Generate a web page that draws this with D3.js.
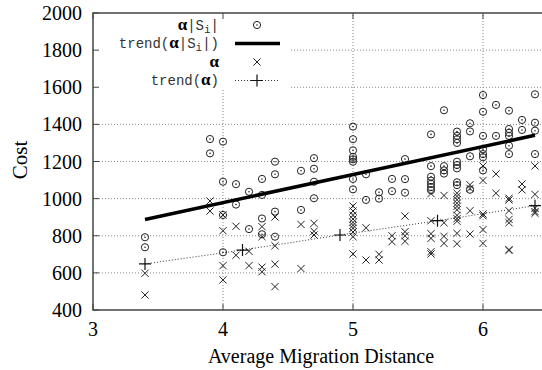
<!DOCTYPE html>
<html>
<head>
<meta charset="utf-8">
<script src="https://cdn.jsdelivr.net/npm/d3@7"></script>
<style>
  body { margin: 0; background: #fff; }
  svg { display: block; }
</style>
</head>
<body>
<div id="chart"></div>
<script>
var columns = [3.4, 3.9, 4.0, 4.1, 4.2, 4.3, 4.4, 4.6, 4.7, 5.0, 5.1, 5.2, 5.3, 5.4,
  5.6, 5.7, 5.8, 5.9, 6.0, 6.1, 6.2, 6.3, 6.4];

// alpha|S_i| (circles)
var sizedCosts = [
  [792, 738], [1321, 1244], [1307, 1091, 912, 711], [1078, 968], [1037, 836],
  [1106, 1020, 893, 808], [1199, 1131, 930, 795], [1150, 939], [1218, 1161, 1091, 1002],
  [1388, 1320, 1260, 1225, 1212, 1199, 1106, 1050], [1131, 993], [1034, 1000], [1106, 1040],
  [1213, 1105, 1032], [1346, 1175, 1118, 1097, 1080, 1062, 1045], [1476, 1175, 1152, 1135],
  [1361, 1338, 1320, 1300, 1199, 1181, 1163, 1088, 1073], [1406, 1362, 1228, 1048],
  [1558, 1468, 1338, 1266, 1240, 1223, 1152], [1505, 1338], [1474, 1375, 1355, 1338, 1285, 1240],
  [1424, 1370], [1562, 1409, 1366, 1240]
];

// alpha (crosses)
var alphaCosts = [
  [598, 481], [987, 933], [912, 827, 639, 562], [851, 695], [716, 639],
  [849, 795, 631, 606], [901, 746, 647, 526], [861, 623], [867, 824, 804],
  [960, 933, 910, 890, 872, 856, 840, 820, 795, 702], [843, 669], [700, 669], [800, 768],
  [906, 822, 800, 770], [1027, 881, 811, 786, 714, 702], [1017, 870, 797, 759],
  [1029, 1012, 994, 975, 958, 940, 910, 892, 878, 813, 757], [1075, 1055, 935, 809],
  [1176, 1098, 917, 908, 833, 759], [1133, 1029], [1002, 993, 935, 888, 870, 725, 721],
  [1079, 1047], [1176, 1023, 948, 930, 921]
];

// trend lines
var trendSizedX = [3.4, 6.4],
  trendSizedY = [888, 1341];
var trendAlphaX = [3.4, 4.15, 4.9, 5.65, 6.4],
  trendAlphaY = [648, 723, 804, 881, 962];

var xTicks = [3, 4, 5, 6],
  yTicks = [400, 600, 800, 1000, 1200, 1400, 1600, 1800, 2000];

var W = 542, H = 370;
var margin = {top: 13, left: 93, bottom: 60};

var xScale = d3.scaleLinear().domain([3, 6.5]).range([margin.left, margin.left + 3.5 * 130]),
  yScale = d3.scaleLinear().domain([400, 2000]).range([H - margin.bottom, margin.top]);

var x0 = xScale(3), x1 = xScale(6.5), y0 = yScale(400), y1 = yScale(2000);

var svg = d3.select("#chart").append("svg")
  .attr("width", W)
  .attr("height", H);

// grid
svg.append("g").selectAll("line")
  .data(yTicks.slice(1, -1))
  .enter().append("line")
  .attr("x1", x0).attr("x2", x1)
  .attr("y1", d => yScale(d)).attr("y2", d => yScale(d))
  .attr("stroke", "#888").attr("stroke-width", 1)
  .attr("stroke-dasharray", "1,2");
svg.append("g").selectAll("line")
  .data(xTicks.slice(1))
  .enter().append("line")
  .attr("x1", d => xScale(d)).attr("x2", d => xScale(d))
  .attr("y1", y0).attr("y2", y1)
  .attr("stroke", "#888").attr("stroke-width", 1)
  .attr("stroke-dasharray", "1,2");

// opaque key background
svg.append("rect")
  .attr("x", x0).attr("y", y1)
  .attr("width", 197).attr("height", 76)
  .attr("fill", "white");

// flatten the columns into points
var sizedPts = [], alphaPts = [];
columns.forEach(function(c, i) {
  sizedCosts[i].forEach(v => sizedPts.push({x: c, y: v}));
  alphaCosts[i].forEach(v => alphaPts.push({x: c, y: v}));
});

function circleMark(g, cx, cy) {
  g.append("circle").attr("cx", cx).attr("cy", cy).attr("r", 3.6)
    .attr("fill", "none").attr("stroke", "#222").attr("stroke-width", 1);
  g.append("circle").attr("cx", cx).attr("cy", cy).attr("r", 0.8)
    .attr("fill", "#222");
}
function crossMark(g, cx, cy, s) {
  g.append("path")
    .attr("d", `M${cx - s},${cy - s}L${cx + s},${cy + s}M${cx - s},${cy + s}L${cx + s},${cy - s}`)
    .attr("stroke", "#222").attr("stroke-width", 1).attr("fill", "none");
}
function plusMark(g, cx, cy, s) {
  g.append("path")
    .attr("d", `M${cx - s},${cy}L${cx + s},${cy}M${cx},${cy - s}L${cx},${cy + s}`)
    .attr("stroke", "#111").attr("stroke-width", 1.2).attr("fill", "none");
}

var marks = svg.append("g");
sizedPts.forEach(d => circleMark(marks, xScale(d.x), yScale(d.y)));
alphaPts.forEach(d => crossMark(marks, xScale(d.x), yScale(d.y), 3.6));

// trend of alpha|S_i|
var line = d3.line().x(d => xScale(d[0])).y(d => yScale(d[1]));
svg.append("path")
  .datum(trendSizedX.map((v, i) => [v, trendSizedY[i]]))
  .attr("d", line)
  .attr("stroke", "#000").attr("stroke-width", 3.5).attr("fill", "none");

// trend of alpha, dotted with plus points
var talpha = trendAlphaX.map((v, i) => [v, trendAlphaY[i]]);
svg.append("path")
  .datum(talpha)
  .attr("d", line)
  .attr("stroke", "#333").attr("stroke-width", 1)
  .attr("stroke-dasharray", "1,2").attr("fill", "none");
talpha.forEach(d => plusMark(svg, xScale(d[0]), yScale(d[1]), 6));

// border (right side is cut off by the picture)
svg.append("path")
  .attr("d", `M${x1},${y1}H${x0}V${y0}H${x1}`)
  .attr("stroke", "#444").attr("stroke-width", 1.5).attr("fill", "none");

// inward ticks
var ticks = svg.append("g").attr("stroke", "#444").attr("stroke-width", 1);
yTicks.forEach(function(t) {
  ticks.append("line").attr("x1", x0).attr("x2", x0 + 6)
    .attr("y1", yScale(t)).attr("y2", yScale(t));
});
xTicks.forEach(function(t) {
  ticks.append("line").attr("x1", xScale(t)).attr("x2", xScale(t))
    .attr("y1", y0).attr("y2", y0 - 6);
  ticks.append("line").attr("x1", xScale(t)).attr("x2", xScale(t))
    .attr("y1", y1).attr("y2", y1 + 6);
});

// tick labels
var serif = "'Liberation Serif', 'Times New Roman', serif";
svg.append("g").selectAll("text")
  .data(yTicks)
  .enter().append("text")
  .attr("x", x0 - 11)
  .attr("y", d => yScale(d))
  .attr("dy", "0.35em")
  .attr("text-anchor", "end")
  .style("font-family", serif).style("font-size", "20px")
  .text(d => d);
svg.append("g").selectAll("text")
  .data(xTicks)
  .enter().append("text")
  .attr("x", d => xScale(d))
  .attr("y", y0 + 19)
  .attr("dy", "0.35em")
  .attr("text-anchor", "middle")
  .style("font-family", serif).style("font-size", "20px")
  .text(d => d);

// axis titles
svg.append("text")
  .attr("x", 321).attr("y", 356).attr("dy", "0.35em")
  .attr("text-anchor", "middle")
  .style("font-family", serif).style("font-size", "20px")
  .text("Average Migration Distance");
svg.append("text")
  .attr("transform", "translate(20,160) rotate(-90)")
  .attr("dy", "0.35em")
  .attr("text-anchor", "middle")
  .style("font-family", serif).style("font-size", "21px")
  .text("Cost");

// key
var mono = "'Liberation Mono', 'Courier New', monospace";
var keyX = 219, sampleX1 = 235, sampleX2 = 280, sampleC = 257;
var rows = [25, 43.5, 62, 80.5];

function keyLabel(y, parts) {
  var t = svg.append("text")
    .attr("x", keyX).attr("y", y).attr("dy", "0.35em")
    .attr("text-anchor", "end")
    .style("font-family", mono).style("font-size", "14px").attr("fill", "#333");
  parts.forEach(function(p) {
    var s = t.append("tspan").text(p.t);
    if (p.greek) s.style("font-family", serif).style("font-weight", "bold").style("font-size", "17px").attr("fill", "#000");
    if (p.sub) s.attr("dy", "3").style("font-size", "11px");
    if (p.up) s.attr("dy", "-3");
  });
}

keyLabel(rows[0], [{t: "α", greek: true}, {t: "|S"}, {t: "i", sub: true}, {t: "|", up: true}]);
keyLabel(rows[1], [{t: "trend("}, {t: "α", greek: true}, {t: "|S"}, {t: "i", sub: true}, {t: "|)", up: true}]);
keyLabel(rows[2], [{t: "α", greek: true}]);
keyLabel(rows[3], [{t: "trend("}, {t: "α", greek: true}, {t: ")"}]);

circleMark(svg, sampleC, rows[0]);
svg.append("line").attr("x1", sampleX1).attr("x2", sampleX2)
  .attr("y1", rows[1]).attr("y2", rows[1])
  .attr("stroke", "#000").attr("stroke-width", 3.5);
crossMark(svg, sampleC, rows[2], 3.6);
svg.append("line").attr("x1", sampleX1).attr("x2", sampleX2)
  .attr("y1", rows[3]).attr("y2", rows[3])
  .attr("stroke", "#333").attr("stroke-width", 1).attr("stroke-dasharray", "1,2");
plusMark(svg, sampleC, rows[3], 6);
</script>
</body>
</html>
